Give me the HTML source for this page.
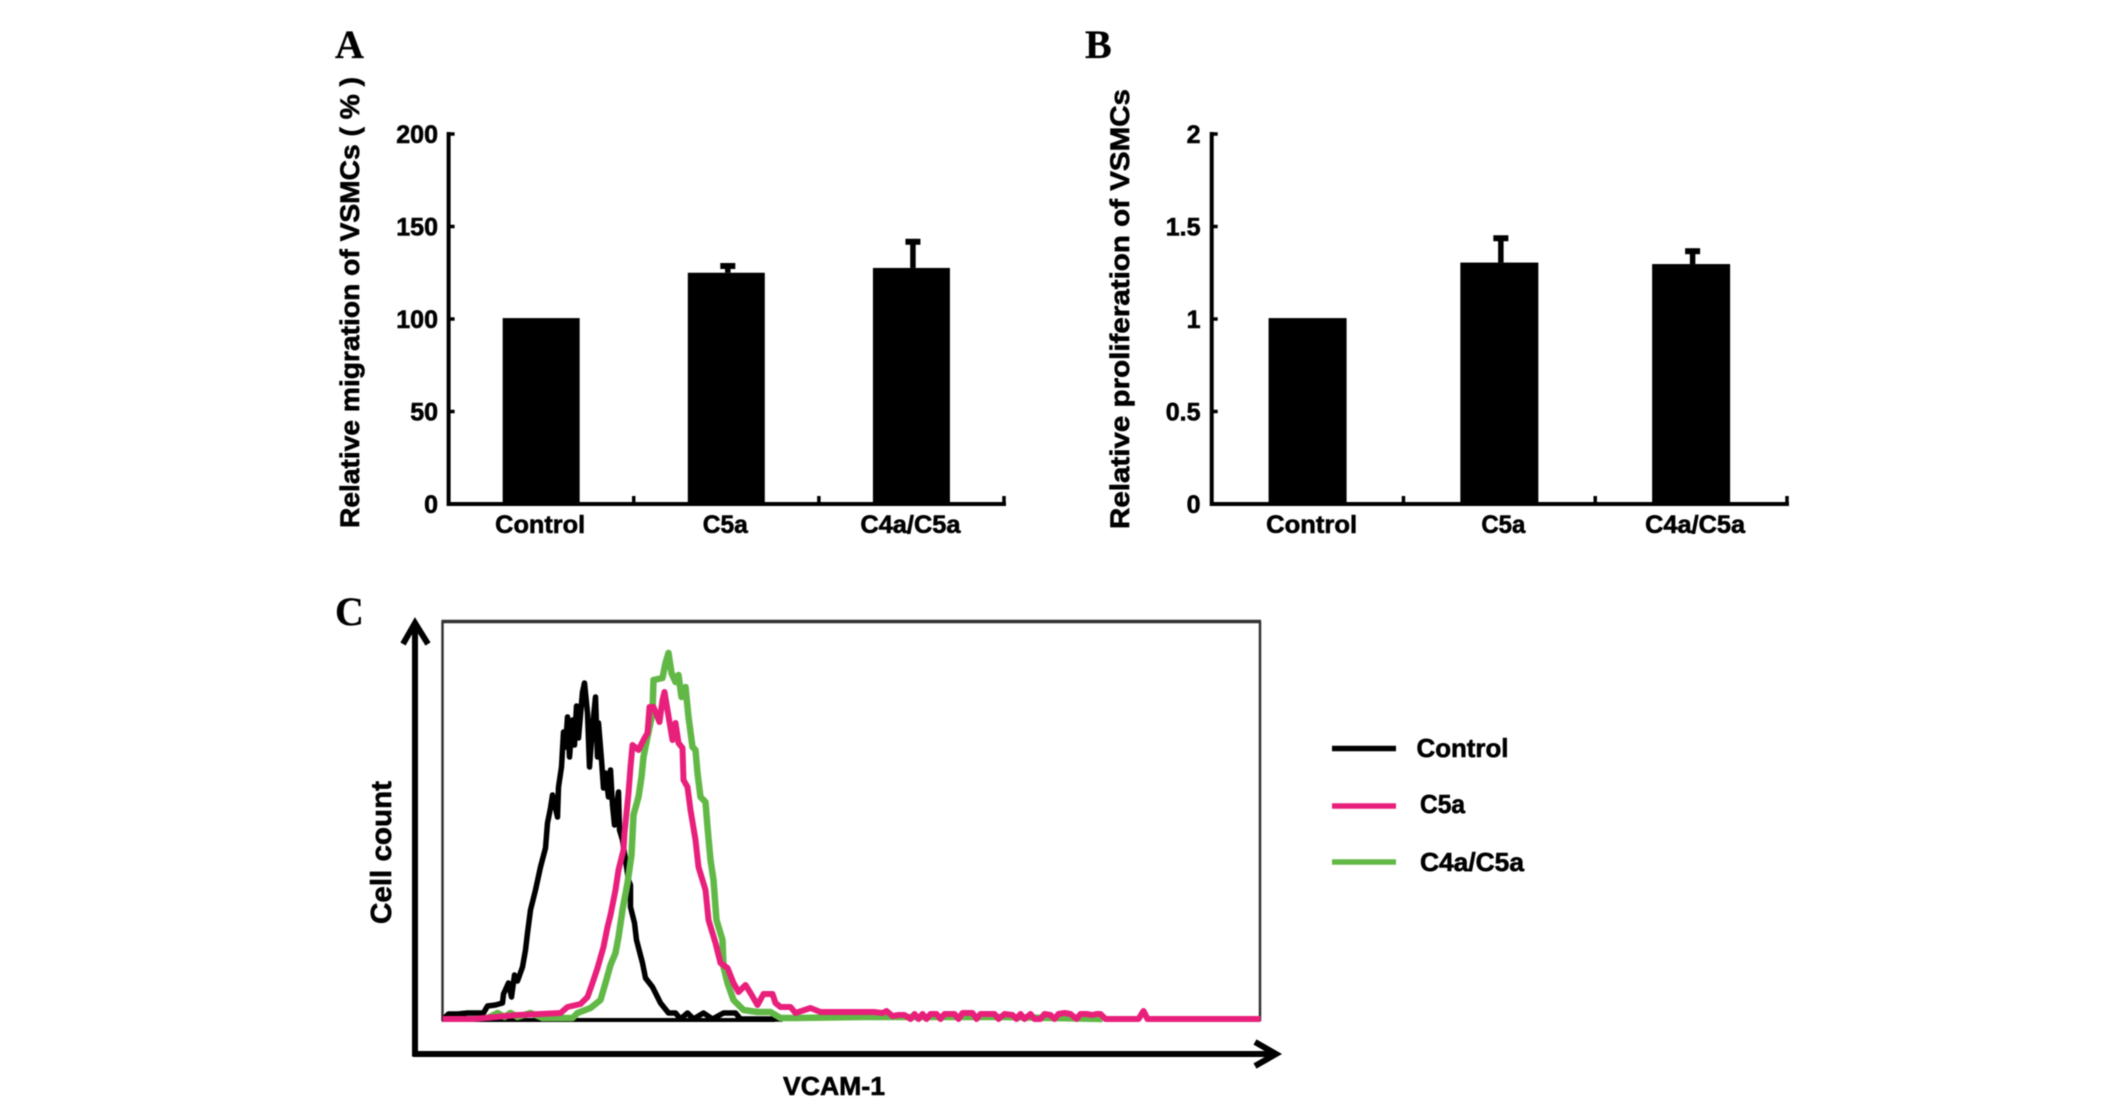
<!DOCTYPE html>
<html lang="en">
<head>
<meta charset="utf-8">
<title>VSMC migration, proliferation and VCAM-1 expression</title>
<style>
  html, body { margin: 0; padding: 0; background: #fff; }
  #figure { display: block; width: 2126px; height: 1106px; filter: blur(0.5px); }
  text { fill: #000; stroke: #000; stroke-width: 0.6px; font-family: "Liberation Sans", Arial, sans-serif; font-weight: bold; }
  .panel-letter { font-family: "Liberation Serif", "Times New Roman", serif; font-size: 40px; stroke-width: 0.3px; }
</style>
</head>
<body>
<svg id="figure" xmlns="http://www.w3.org/2000/svg" width="2126" height="1106" viewBox="0 0 2126 1106">
  <rect x="0" y="0" width="2126" height="1106" fill="#fff"/>
  <text class="panel-letter" x="335" y="58">A</text>
  <text class="panel-letter" x="1085" y="58">B</text>
  <text class="panel-letter" x="335" y="625">C</text>

  <g id="panel-a"></g>
  <g id="panel-b"></g>

  <text transform="translate(359,528) rotate(-90)" font-size="27" textLength="451" lengthAdjust="spacingAndGlyphs">Relative migration of VSMCs ( % )</text>
  <text transform="translate(1129,529) rotate(-90)" font-size="27" textLength="440" lengthAdjust="spacingAndGlyphs">Relative proliferation of VSMCs</text>

  <g id="panel-c">
    <line x1="442.5" y1="621" x2="442.5" y2="1021" stroke="#333" stroke-width="2.5"/>
    <line x1="441.5" y1="621.5" x2="1261" y2="621.5" stroke="#333" stroke-width="3.5"/>
    <line x1="1260" y1="621" x2="1260" y2="1021" stroke="#333" stroke-width="2.5"/>
    <line x1="442" y1="1020" x2="775" y2="1020" stroke="#000" stroke-width="4"/>
    <g id="curves"></g>
    <line x1="415" y1="623" x2="415" y2="1056.5" stroke="#000" stroke-width="6"/>
    <polyline points="403,644 415,623 428,644" fill="none" stroke="#000" stroke-width="6"/>
    <line x1="413" y1="1054" x2="1275" y2="1054" stroke="#000" stroke-width="6"/>
    <polyline points="1255,1042 1276,1054 1255,1066" fill="none" stroke="#000" stroke-width="6"/>
    <text transform="translate(391,924) rotate(-90)" font-size="29" textLength="143" lengthAdjust="spacingAndGlyphs">Cell count</text>
    <text x="783" y="1095" font-size="26" textLength="102" lengthAdjust="spacingAndGlyphs">VCAM-1</text>
  </g>

  <g id="legend">
    <line x1="1332" y1="748.5" x2="1396" y2="748.5" stroke="#000" stroke-width="5.5"/>
    <text x="1416.5" y="757" font-size="26" textLength="92" lengthAdjust="spacingAndGlyphs">Control</text>
    <line x1="1332" y1="806" x2="1396" y2="806" stroke="#e8207c" stroke-width="5.5"/>
    <text x="1420" y="813" font-size="26" textLength="45" lengthAdjust="spacingAndGlyphs">C5a</text>
    <line x1="1332" y1="862" x2="1396" y2="862" stroke="#62b846" stroke-width="5.5"/>
    <text x="1420" y="871" font-size="26" textLength="104" lengthAdjust="spacingAndGlyphs">C4a/C5a</text>
  </g>
</svg>

<script>
// Panel A and B data
const categories = ['Control', 'C5a', 'C4a/C5a'];
const migrationValues = [100.5, 125, 127.6];
const migrationErrors = [0, 5, 15.5];
const migrationTicks = [0, 50, 100, 150, 200];
const proliferationValues = [1.005, 1.305, 1.297];
const proliferationErrors = [0, 0.145, 0.083];
const proliferationTicks = [0, 0.5, 1, 1.5, 2];

// Panel C data: channel (x) and cell count (y)
const controlChannels = [1,6,15,25,35,41,45,53,60,61,66,69,72,75,80,83,85,88,93,98,103,105,108,110,115,116,119,121,123,125,127,130,132,134,136,140,142,145,147,150,153,155,156,159,161,163,166,168,170,172,176,177,180,186,188,188,192,194,200,203,210,218,226,233,238,245,251,261,270,281,293,298,325,340];
const controlCounts = [1,6,6,7,7,7,14,15,17,26,37,23,45,39,53,70,87,110,130,153,172,197,212,225,203,233,253,288,273,303,263,300,275,314,282,328,337,307,253,293,323,263,297,260,232,247,223,250,215,195,228,190,180,140,135,113,97,80,57,42,33,17,7,7,1,7,1,7,1,7,7,1,1,1];

const c5aChannels = [0,31,75,98,118,125,138,145,150,155,161,165,168,173,176,181,182,186,188,190,196,201,205,207,211,217,220,222,225,230,233,236,240,241,245,248,253,256,263,266,273,278,285,291,296,303,308,315,321,330,333,338,348,353,368,378,431,440,444,450,456,462,468,472,476,480,484,488,494,498,502,512,516,520,530,534,538,546,552,556,562,570,574,578,582,588,592,598,602,608,612,616,622,628,634,638,644,650,654,658,663,696,701,705,818];
const c5aCounts = [1,1,5,6,7,13,16,23,37,52,73,93,105,130,150,170,187,227,253,275,270,280,287,313,313,298,320,328,310,280,297,277,272,240,233,210,180,153,130,100,77,57,52,37,28,35,27,15,26,26,17,13,13,7,12,8,8,7,9,4,5,5,1,6,1,6,1,6,6,1,6,6,1,7,7,1,6,6,6,1,6,5,1,6,1,6,1,1,6,5,1,6,7,6,1,6,6,5,6,6,1,1,9,1,1];

const c4aChannels = [45,55,62,68,75,88,100,130,135,148,158,163,168,173,176,180,185,189,191,196,199,201,205,210,211,220,223,226,229,233,236,239,243,246,250,253,255,258,263,265,268,271,274,280,281,285,291,301,315,328,338,353,420,560,660];
const c4aCounts = [2,7,3,7,3,7,2,2,7,12,20,37,55,67,83,110,137,165,205,223,243,263,283,307,340,342,357,367,347,338,345,323,333,303,273,270,247,223,218,193,160,140,100,80,53,37,20,10,8,8,2,2,3,3,1];

// Axis geometry (layout only)
const barBaseline = 504;
const barPlotHeight = 370;
const histogramBaseline = 1020;
const histogramLeft = 442.5;
const SVG_NS = 'http://www.w3.org/2000/svg';

function node(parent, tag) {
  const el = document.createElementNS(SVG_NS, tag);
  parent.appendChild(el);
  return el;
}

function drawBarPanel(panel, values, errors, ticks, axisLeft, axisRight, barWidth, labelShift, labelWidths, tickRight) {
  const yMax = ticks[ticks.length - 1];
  const yScale = v => barBaseline - (v / yMax) * barPlotHeight;
  const band = (axisRight - axisLeft) / categories.length;
  const xCenter = i => axisLeft + band * (i + 0.5);

  const yAxis = node(panel, 'line');
  
  
  yAxis.setAttribute('x1', axisLeft);
  yAxis.setAttribute('x2', axisLeft);
  yAxis.setAttribute('y1', yScale(yMax) - 2);
  yAxis.setAttribute('y2', barBaseline + 2);
  yAxis.setAttribute('stroke', '#000');
  yAxis.setAttribute('stroke-width', 4);

  const xAxis = node(panel, 'line');
  
  
  xAxis.setAttribute('x1', axisLeft);
  xAxis.setAttribute('x2', axisRight + 2);
  xAxis.setAttribute('y1', barBaseline);
  xAxis.setAttribute('y2', barBaseline);
  xAxis.setAttribute('stroke', '#000');
  xAxis.setAttribute('stroke-width', 4);

  ticks.forEach(t => {
    const mark = node(panel, 'line');
    
    
    mark.setAttribute('x1', axisLeft);
    mark.setAttribute('x2', axisLeft + 6);
    mark.setAttribute('y1', yScale(t));
    mark.setAttribute('y2', yScale(t));
    mark.setAttribute('stroke', '#000');
    mark.setAttribute('stroke-width', 3.5);

    const label = node(panel, 'text');
    
    
    label.setAttribute('x', tickRight);
    label.setAttribute('y', yScale(t) + 9);
    label.setAttribute('font-size', 25);
    label.setAttribute('text-anchor', 'end');
    label.textContent = String(t);
  });

  categories.forEach((name, i) => {
    const sep = node(panel, 'line');
    
    
    sep.setAttribute('x1', axisLeft + band * (i + 1));
    sep.setAttribute('x2', axisLeft + band * (i + 1));
    sep.setAttribute('y1', barBaseline);
    sep.setAttribute('y2', barBaseline - 8);
    sep.setAttribute('stroke', '#000');
    sep.setAttribute('stroke-width', 3.5);

    const bar = node(panel, 'rect');
    
    
    bar.setAttribute('x', xCenter(i) - barWidth / 2);
    bar.setAttribute('y', yScale(values[i]));
    bar.setAttribute('width', barWidth);
    bar.setAttribute('height', barBaseline - yScale(values[i]));
    bar.setAttribute('fill', '#000');

    if (errors[i] > 0) {
      const stem = node(panel, 'line');
      
      
      stem.setAttribute('x1', xCenter(i) + 1.5);
      stem.setAttribute('x2', xCenter(i) + 1.5);
      stem.setAttribute('y1', yScale(values[i]));
      stem.setAttribute('y2', yScale(values[i] + errors[i]));
      stem.setAttribute('stroke', '#000');
      stem.setAttribute('stroke-width', 5.5);

      const cap = node(panel, 'line');
      
      
      cap.setAttribute('x1', xCenter(i) + 1.5 - 7.5);
      cap.setAttribute('x2', xCenter(i) + 1.5 + 7.5);
      cap.setAttribute('y1', yScale(values[i] + errors[i]) + 2.5);
      cap.setAttribute('y2', yScale(values[i] + errors[i]) + 2.5);
      cap.setAttribute('stroke', '#000');
      cap.setAttribute('stroke-width', 6);
    }

    const catLabel = node(panel, 'text');
    
    
    catLabel.setAttribute('x', xCenter(i) + labelShift);
    catLabel.setAttribute('y', 533);
    catLabel.setAttribute('font-size', 25);
    catLabel.setAttribute('text-anchor', 'middle');
    catLabel.setAttribute('textLength', labelWidths[i]);
    catLabel.setAttribute('lengthAdjust', 'spacingAndGlyphs');
    catLabel.textContent = name;
  });
}

const panelA = document.getElementById('panel-a');
const panelB = document.getElementById('panel-b');
drawBarPanel(panelA, migrationValues, migrationErrors, migrationTicks, 448.6, 1004, 77, -1, [90, 45, 100], 438);
drawBarPanel(panelB, proliferationValues, proliferationErrors, proliferationTicks, 1211.7, 1787, 78, 4, [91, 44, 100], 1200.5);

function histX(channel) { return histogramLeft + channel; }
function histY(count) { return histogramBaseline - count; }

function pointsFor(channels, counts) {
  return channels.map((c, i) => histX(c) + ',' + histY(counts[i])).join(' ');
}

const curves = document.getElementById('curves');

const controlCurve = node(curves, 'polyline');


controlCurve.setAttribute('points', pointsFor(controlChannels, controlCounts));
controlCurve.setAttribute('fill', 'none');
controlCurve.setAttribute('stroke', '#000');
controlCurve.setAttribute('stroke-width', 5.5);
controlCurve.setAttribute('stroke-linejoin', 'round');

const c4aCurve = node(curves, 'polyline');


c4aCurve.setAttribute('points', pointsFor(c4aChannels, c4aCounts));
c4aCurve.setAttribute('fill', 'none');
c4aCurve.setAttribute('stroke', '#62b846');
c4aCurve.setAttribute('stroke-width', 6.5);
c4aCurve.setAttribute('stroke-linejoin', 'round');

const c5aCurve = node(curves, 'polyline');


c5aCurve.setAttribute('points', pointsFor(c5aChannels, c5aCounts));
c5aCurve.setAttribute('fill', 'none');
c5aCurve.setAttribute('stroke', '#e8207c');
c5aCurve.setAttribute('stroke-width', 6);
c5aCurve.setAttribute('stroke-linejoin', 'round');
</script>
</body>
</html>
